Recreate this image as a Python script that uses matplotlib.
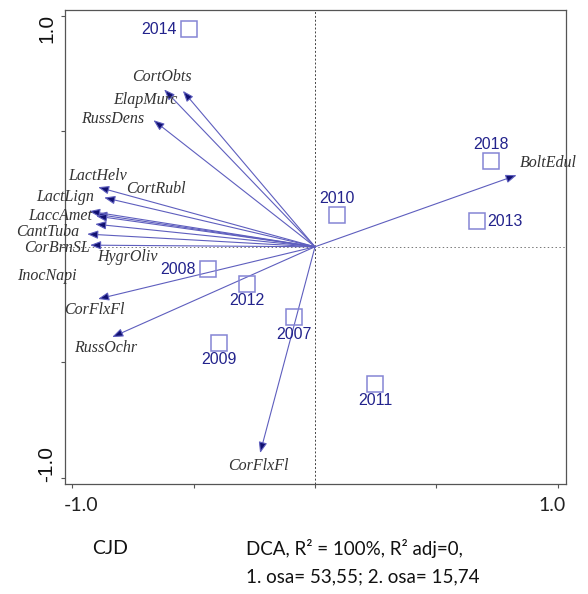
import matplotlib
matplotlib.use("Agg")
import matplotlib.pyplot as plt
from matplotlib.transforms import blended_transform_factory

# ---- data ----
years = ["2014", "2018", "2010", "2013", "2011", "2008", "2012", "2007", "2009"]
year_x = [-0.519, 0.724, 0.092, 0.667, 0.247, -0.439, -0.279, -0.085, -0.394]
year_y = [0.942, 0.372, 0.137, 0.110, -0.594, -0.097, -0.161, -0.306, -0.418]
year_label_pos = ["left", "above", "above", "right", "below", "left", "below", "below", "below"]

species = ["CortObts", "ElapMurc", "RussDens", "LactHelv", "CortRubl", "LactLign",
           "LaccAmet", "CantTuba", "CorBrnSL", "HygrOliv", "InocNapi", "CorFlxFl",
           "RussOchr", "CorFlxFl", "BoltEdul"]
sp_x = [-0.544, -0.621, -0.665, -0.893, -0.901, -0.868, -0.930, -0.938, -0.926,
        -0.901, -0.905, -0.893, -0.835, -0.226, 0.830]
sp_y = [0.675, 0.681, 0.548, 0.258, 0.141, 0.213, 0.154, 0.055, 0.007,
        0.133, 0.098, -0.226, -0.391, -0.893, 0.310]
sp_lab_x = [-0.630, -0.700, -0.831, -0.897, -0.654, -1.029, -1.049, -1.099, -1.062,
            -0.774, -1.103, -0.909, -0.860, -0.235, 0.959]
sp_lab_y = [0.734, 0.635, 0.552, 0.306, 0.250, 0.215, 0.133, 0.064, -0.006,
            -0.045, -0.127, -0.274, -0.439, -0.949, 0.362]

tick_vals = [-1.0, -0.5, 0.0, 0.5, 1.0]
caption_left = "CJD"
caption_right = ["DCA, R\u00b2 = 100%, R\u00b2 adj=0,", "1. osa= 53,55; 2. osa= 15,74"]

# ---- figure ----
fig = plt.figure(figsize=(5.88, 5.94), dpi=100)
ax = fig.add_axes([65 / 588, 1 - 484 / 594, 501 / 588, 474 / 594])
ax.set_xlim(-1.029, 1.033)
ax.set_ylim(-1.027, 1.025)

for s in ax.spines.values():
    s.set_color("#555555")
    s.set_linewidth(0.9)

ax.axvline(0, color="#444444", lw=0.7, ls=(0, (2, 2)), zorder=1)
ax.axhline(0, color="#777777", lw=0.7, ls=(0, (1.5, 2.5)), zorder=1)

ax.set_xticks(tick_vals)
ax.set_yticks(tick_vals)
ax.set_xticklabels([])
ax.set_yticklabels([])
ax.tick_params(direction="out", length=3, width=0.8, color="#555555")

# tick labels
tx = blended_transform_factory(ax.transData, ax.transAxes)
ty = blended_transform_factory(ax.transAxes, ax.transData)
ax.text(-1.035, -0.028, "-1.0", transform=tx, ha="left", va="top",
        fontsize=14, family="Lato", color="#222222")
ax.text(1.03, -0.028, "1.0", transform=tx, ha="right", va="top",
        fontsize=14, family="Lato", color="#222222")
ax.text(-0.017, 1.01, "1.0", transform=ty, ha="right", va="top", rotation=90,
        fontsize=15, family="Liberation Sans", color="#111111")
ax.text(-0.017, -1.02, "-1.0", transform=ty, ha="right", va="bottom", rotation=90,
        fontsize=15, family="Liberation Sans", color="#111111")

# arrows
for name, x, y, lx, ly in zip(species, sp_x, sp_y, sp_lab_x, sp_lab_y):
    ax.annotate("", xy=(x, y), xytext=(0, 0),
                arrowprops=dict(arrowstyle="-|>,head_length=0.65,head_width=0.25",
                                fc="#101070", ec="#5e5ebe", lw=0.8,
                                shrinkA=0, shrinkB=0), zorder=3)
    ax.text(lx, ly, name, ha="center", va="center", fontsize=11.5,
            family="Liberation Serif", style="italic", color="#333333",
            zorder=4, clip_on=False)

# samples
ax.plot(year_x, year_y, ls="none", marker="s", markersize=12,
        markerfacecolor="none", markeredgecolor="#8585d4", markeredgewidth=1.1, zorder=5)
for lab, x, y, pos in zip(years, year_x, year_y, year_label_pos):
    kw = dict(fontsize=11.5, family="Liberation Sans", color="#23238c", zorder=6)
    if pos == "left":
        ax.annotate(lab, (x, y), xytext=(-9, 0), textcoords="offset points",
                    ha="right", va="center", **kw)
    elif pos == "right":
        ax.annotate(lab, (x, y), xytext=(7, 0), textcoords="offset points",
                    ha="left", va="center", **kw)
    elif pos == "above":
        ax.annotate(lab, (x, y), xytext=(0, 12), textcoords="offset points",
                    ha="center", va="center", **kw)
    else:
        ax.annotate(lab, (x, y), xytext=(0, -12), textcoords="offset points",
                    ha="center", va="center", **kw)

# captions
fig.text(110 / 588, 1 - 549 / 594, caption_left, ha="center", va="center",
         fontsize=14, family="Lato", color="#111111")
fig.text(246 / 588, 1 - 548 / 594, caption_right[0], ha="left", va="center",
         fontsize=13.5, family="Lato", color="#111111")
fig.text(246 / 588, 1 - 577 / 594, caption_right[1], ha="left", va="center",
         fontsize=13.5, family="Lato", color="#111111")

fig.savefig("out.png", dpi=100, facecolor="white")
